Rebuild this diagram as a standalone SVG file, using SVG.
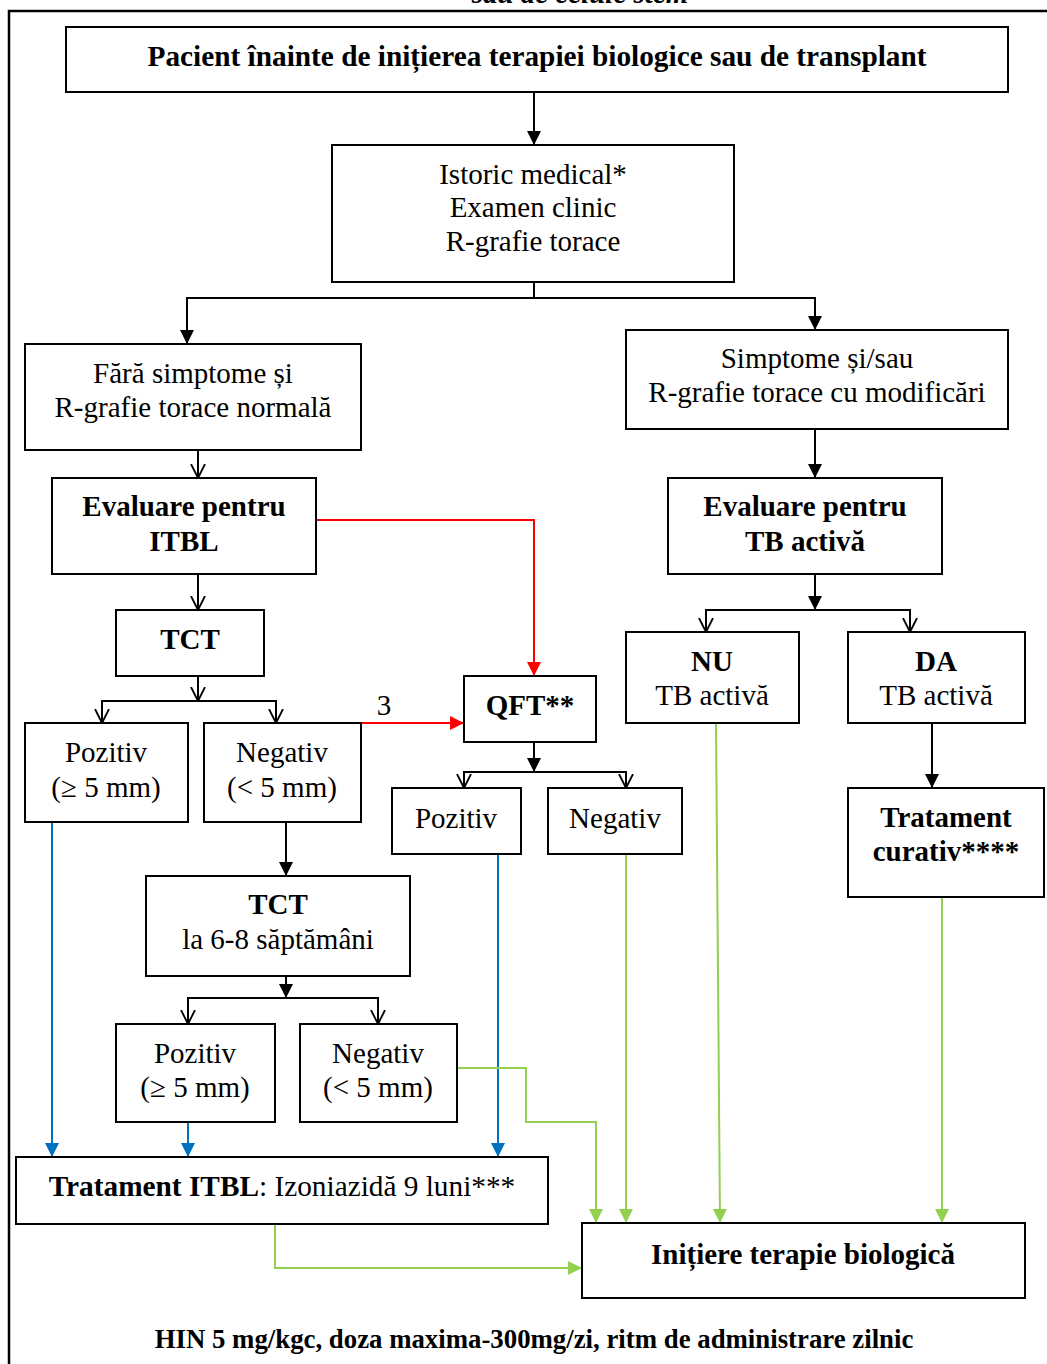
<svg xmlns="http://www.w3.org/2000/svg" width="1047" height="1364" viewBox="0 0 1047 1364">
<style>
.box{fill:#fff;stroke:#000;stroke-width:2}
.t{font-family:"Liberation Serif","Times New Roman",serif;font-size:29px;text-anchor:middle;fill:#000}
.b{font-weight:bold}
.c{fill:none;stroke:#000;stroke-width:2}
.red{fill:none;stroke:#FF0000;stroke-width:2}
.blue{fill:none;stroke:#0070C0;stroke-width:2}
.green{fill:none;stroke:#92D050;stroke-width:2}
</style>
<defs>
<marker id="af" viewBox="0 0 10 10" refX="10" refY="5" markerWidth="14" markerHeight="15" markerUnits="userSpaceOnUse" orient="auto"><path d="M0,0 L10,5 L0,10 z" fill="#000"/></marker>
<marker id="ao" viewBox="0 0 10 10" refX="10" refY="5" markerWidth="14" markerHeight="16" markerUnits="userSpaceOnUse" orient="auto"><path d="M0,0 L10,5 L0,10" fill="none" stroke="#000" stroke-width="1.3"/></marker>
<marker id="ar" viewBox="0 0 10 10" refX="10" refY="5" markerWidth="14" markerHeight="15" markerUnits="userSpaceOnUse" orient="auto"><path d="M0,0 L10,5 L0,10 z" fill="#FF0000"/></marker>
<marker id="ab" viewBox="0 0 10 10" refX="10" refY="5" markerWidth="14" markerHeight="15" markerUnits="userSpaceOnUse" orient="auto"><path d="M0,0 L10,5 L0,10 z" fill="#0070C0"/></marker>
<marker id="ag" viewBox="0 0 10 10" refX="10" refY="5" markerWidth="14" markerHeight="15" markerUnits="userSpaceOnUse" orient="auto"><path d="M0,0 L10,5 L0,10 z" fill="#92D050"/></marker>
</defs>
<rect width="1047" height="1364" fill="#fff"/>
<text x="580" y="3" class="t b" font-style="italic">sau de celule stem</text>
<path d="M9,1364 V11 H1047" fill="none" stroke="#000" stroke-width="2.5"/>

<g id="connectors">
<path class="c" d="M534,92 V145" marker-end="url(#af)"/>
<path class="c" d="M534,282 V298"/>
<path class="c" d="M534,298 H187 V344" marker-end="url(#af)"/>
<path class="c" d="M534,298 H815 V330" marker-end="url(#af)"/>
<path class="c" d="M198,450 V478" marker-end="url(#ao)"/>
<path class="c" d="M815,429 V478" marker-end="url(#af)"/>
<path class="red" d="M316,520 H534 V676" marker-end="url(#ar)"/>
<path class="c" d="M198,574 V610" marker-end="url(#ao)"/>
<path class="c" d="M198,676 V701" marker-end="url(#ao)"/>
<path class="c" d="M198,701 H102 V723" marker-end="url(#ao)"/>
<path class="c" d="M198,701 H276 V723" marker-end="url(#ao)"/>
<path class="red" d="M361,723 H464" marker-end="url(#ar)"/>
<text x="384" y="715" class="t">3</text>
<path class="c" d="M534,742 V772" marker-end="url(#af)"/>
<path class="c" d="M534,772 H464 V788" marker-end="url(#ao)"/>
<path class="c" d="M534,772 H626 V788" marker-end="url(#ao)"/>
<path class="c" d="M815,574 V610" marker-end="url(#af)"/>
<path class="c" d="M815,610 H706 V632" marker-end="url(#ao)"/>
<path class="c" d="M815,610 H910 V632" marker-end="url(#ao)"/>
<path class="c" d="M932,723 V788" marker-end="url(#af)"/>
<path class="c" d="M286,822 V876" marker-end="url(#af)"/>
<path class="c" d="M286,976 V998" marker-end="url(#af)"/>
<path class="c" d="M286,998 H188 V1024" marker-end="url(#ao)"/>
<path class="c" d="M286,998 H378 V1024" marker-end="url(#ao)"/>
<path class="blue" d="M52,822 V1157" marker-end="url(#ab)"/>
<path class="blue" d="M188,1122 V1157" marker-end="url(#ab)"/>
<path class="blue" d="M498,854 V1157" marker-end="url(#ab)"/>
<path class="green" d="M457,1068 H526 V1122 H596 V1223" marker-end="url(#ag)"/>
<path class="green" d="M626,854 V1223" marker-end="url(#ag)"/>
<path class="green" d="M716,723 L720,1223" marker-end="url(#ag)"/>
<path class="green" d="M942,897 V1223" marker-end="url(#ag)"/>
<path class="green" d="M275,1224 V1268 H582" marker-end="url(#ag)"/>
</g>

<g id="n-pacient"><rect class="box" x="66" y="27" width="942" height="65"/>
<text x="537" y="66" class="t b" style="font-size:29.3px">Pacient înainte de inițierea terapiei biologice sau de transplant</text></g>

<g id="n-istoric"><rect class="box" x="332" y="145" width="402" height="137"/>
<text x="533" y="184" class="t">Istoric medical*</text>
<text x="533" y="217" class="t">Examen clinic</text>
<text x="533" y="251" class="t">R-grafie torace</text></g>

<g id="n-fara"><rect class="box" x="25" y="344" width="336" height="106"/>
<text x="193" y="383" class="t">Fără simptome și</text>
<text x="193" y="417" class="t">R-grafie torace normală</text></g>

<g id="n-simptome"><rect class="box" x="626" y="330" width="382" height="99"/>
<text x="817" y="368" class="t">Simptome și/sau</text>
<text x="817" y="402" class="t">R-grafie torace cu modificări</text></g>

<g id="n-eval-itbl"><rect class="box" x="52" y="478" width="264" height="96"/>
<text x="184" y="516" class="t b">Evaluare pentru</text>
<text x="184" y="551" class="t b">ITBL</text></g>

<g id="n-eval-tb"><rect class="box" x="668" y="478" width="274" height="96"/>
<text x="805" y="516" class="t b">Evaluare pentru</text>
<text x="805" y="551" class="t b">TB activă</text></g>

<g id="n-tct"><rect class="box" x="116" y="610" width="148" height="66"/>
<text x="190" y="649" class="t b">TCT</text></g>

<g id="n-poz1"><rect class="box" x="25" y="723" width="163" height="99"/>
<text x="106" y="762" class="t">Pozitiv</text>
<text x="106" y="797" class="t">(≥ 5 mm)</text></g>

<g id="n-neg1"><rect class="box" x="204" y="723" width="157" height="99"/>
<text x="282" y="762" class="t">Negativ</text>
<text x="282" y="797" class="t">(&lt; 5 mm)</text></g>

<g id="n-qft"><rect class="box" x="464" y="676" width="132" height="66"/>
<text x="530" y="715" class="t b">QFT**</text></g>

<g id="n-qft-poz"><rect class="box" x="392" y="788" width="129" height="66"/>
<text x="456" y="828" class="t">Pozitiv</text></g>

<g id="n-qft-neg"><rect class="box" x="548" y="788" width="134" height="66"/>
<text x="615" y="828" class="t">Negativ</text></g>

<g id="n-nu"><rect class="box" x="626" y="632" width="173" height="91"/>
<text x="712" y="671" class="t b">NU</text>
<text x="712" y="705" class="t">TB activă</text></g>

<g id="n-da"><rect class="box" x="848" y="632" width="177" height="91"/>
<text x="936" y="671" class="t b">DA</text>
<text x="936" y="705" class="t">TB activă</text></g>

<g id="n-curativ"><rect class="box" x="848" y="788" width="196" height="109"/>
<text x="946" y="827" class="t b">Tratament</text>
<text x="946" y="861" class="t b">curativ****</text></g>

<g id="n-tct2"><rect class="box" x="146" y="876" width="264" height="100"/>
<text x="278" y="914" class="t b">TCT</text>
<text x="278" y="949" class="t">la 6-8 săptămâni</text></g>

<g id="n-poz2"><rect class="box" x="116" y="1024" width="159" height="98"/>
<text x="195" y="1063" class="t">Pozitiv</text>
<text x="195" y="1097" class="t">(≥ 5 mm)</text></g>

<g id="n-neg2"><rect class="box" x="300" y="1024" width="157" height="98"/>
<text x="378" y="1063" class="t">Negativ</text>
<text x="378" y="1097" class="t">(&lt; 5 mm)</text></g>

<g id="n-itbl"><rect class="box" x="16" y="1157" width="532" height="67"/>
<text x="282" y="1196" class="t" style="font-size:29.3px"><tspan class="b">Tratament ITBL</tspan>: Izoniazidă 9 luni***</text></g>

<g id="n-initiere"><rect class="box" x="582" y="1223" width="443" height="75"/>
<text x="803" y="1264" class="t b">Inițiere terapie biologică</text></g>

<text x="534" y="1348" class="t b" style="font-size:26.8px">HIN 5 mg/kgc, doza maxima-300mg/zi, ritm de administrare zilnic</text>
</svg>
